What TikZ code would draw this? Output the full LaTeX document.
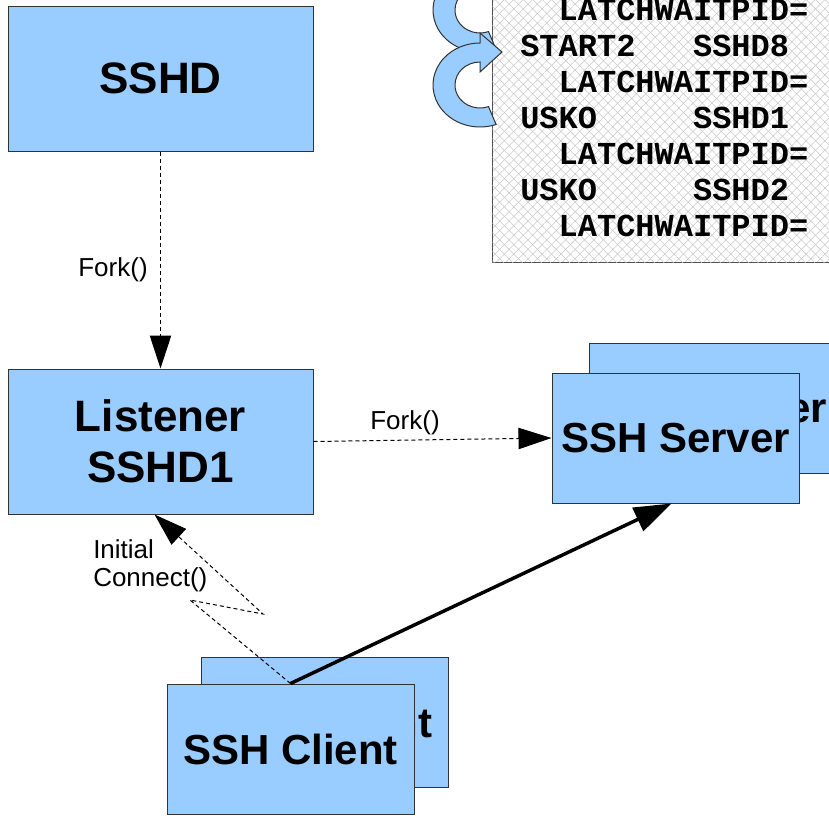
\documentclass[tikz,border=0pt]{standalone}
\usepackage{fontspec}
\setmainfont{Liberation Sans}
\setmonofont{Liberation Mono}
\usetikzlibrary{arrows.meta,patterns.meta,calc}
\definecolor{boxblue}{HTML}{99CCFF}
\definecolor{boxline}{HTML}{333333}
\definecolor{hatch}{HTML}{C8C8C8}
\definecolor{logline}{HTML}{505050}
\tikzset{
  box/.style={draw=boxline, fill=boxblue, line width=0.75pt, inner sep=0pt, align=center},
  bigbox/.style={box, minimum width=228.75pt, minimum height=108.75pt,
    font=\bfseries\fontsize{33}{38}\selectfont},
  smallbox/.style={box, minimum width=185.25pt, minimum height=97.5pt,
    font=\bfseries\fontsize{31.5}{36}\selectfont},
  logbox/.style={draw=logline, line width=0.75pt, inner sep=0pt,
    pattern={Lines[angle=45,distance=5pt,line width=0.4pt]}, pattern color=hatch,
    postaction={pattern={Lines[angle=-45,distance=5pt,line width=0.4pt]}, pattern color=hatch}},
  logtxt/.style={anchor=base west, inner sep=0pt, font=\ttfamily\bfseries\fontsize{24}{27}\selectfont},
  lbl/.style={inner sep=0pt, font=\fontsize{19.5}{21}\selectfont},
  conn/.style={line width=0.75pt, dash pattern=on 3pt off 2.25pt, -{Triangle[length=24.75pt,width=16pt]}},
  strong/.style={line width=2.6pt, -{Triangle[length=28pt,width=19pt]}},
  cyc/.style={draw=boxline, fill=boxblue, line width=0.75pt, line join=miter}
}
\begin{document}
\begin{tikzpicture}[x=0.75pt,y=-0.75pt]
\useasboundingbox (0,0) rectangle (829,815);
\clip (0,0) rectangle (829,815);

% log text box
\node[logbox, anchor=south west, minimum width=262.5pt, minimum height=210pt] (log) at (492,263) {};
\node[logtxt] (l1) at (520,20.5) {\ \ LATCHWAITPID=};
\node[logtxt] (l2) at (520,56.5) {START2\ \ \ SSHD8};
\node[logtxt] (l3) at (520,92.5) {\ \ LATCHWAITPID=};
\node[logtxt] (l4) at (520,128.5) {USKO\ \ \ \ \ SSHD1};
\node[logtxt] (l5) at (520,164.5) {\ \ LATCHWAITPID=};
\node[logtxt] (l6) at (520,200.5) {USKO\ \ \ \ \ SSHD2};
\node[logtxt] (l7) at (520,236.5) {\ \ LATCHWAITPID=};

% circular arrows
\foreach \cy in {10,85}{
\begin{scope}[shift={(480,\cy)}]
\draw[cyc] (70:47 and 42) arc[start angle=70,end angle=270,x radius=47,y radius=42]
  -- (0,-52) -- (22,-33) -- (0,-13) -- (0,-23)
  arc[start angle=270,end angle=70,x radius=25,y radius=23] -- cycle;
\end{scope}
}

% main boxes
\node[bigbox] (sshd) at (160.5,78.5) {SSHD};
\node[bigbox] (lst) at (160.5,441.5) {Listener\\SSHD1};
\node[smallbox] (srvb) at (712.5,408) {SSH Server};
\node[smallbox] (srv) at (675.5,438) {SSH Server};
\node[smallbox] (clib) at (325,722) {SSH Client};
\node[smallbox] (cli) at (290.5,749) {SSH Client};

% connectors
\draw[conn] (sshd.south) -- (lst.north);
\node[lbl] (f1) at (113,270) {Fork()};
\draw[conn] (lst.east) -- (srv.west);
\node[lbl] (f2) at (405,423) {Fork()};
\coordinate (k1) at (190,600);
\coordinate (k2) at (263,614);
\draw[conn] (cli.north) -- (k1) -- (k2) -- ($(lst.south)+(-6,0)$);
\node[lbl, anchor=west, align=left] (ic) at (93,566) {Initial\\Connect()};
\draw[strong] (cli.north) -- ($(srv.south)+(-4,0)$);
\end{tikzpicture}
\end{document}
